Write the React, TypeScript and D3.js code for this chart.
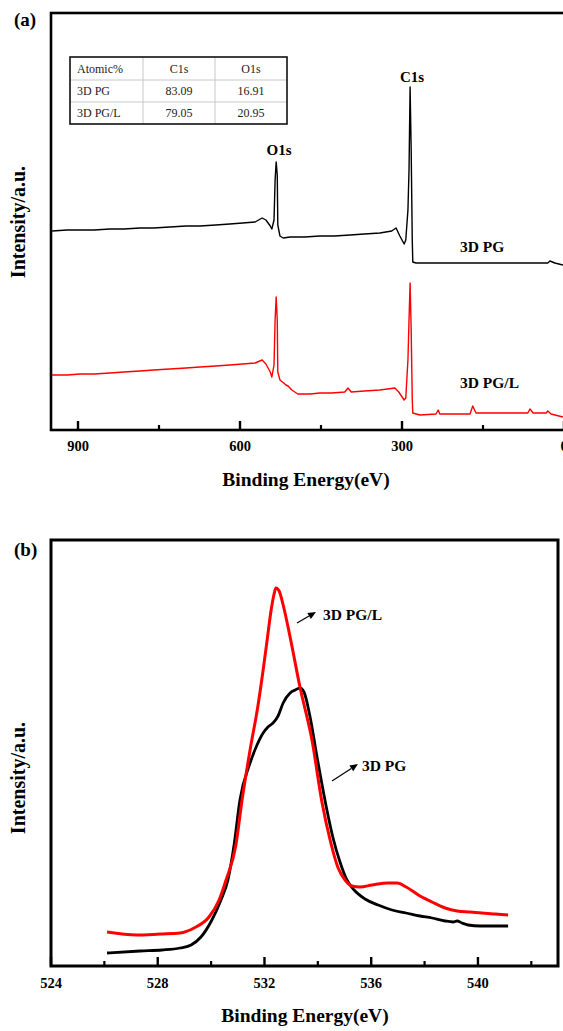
import React from "react";
import * as d3 from "d3";

// ---------- Panel (a): XPS survey spectra ----------
const surveyPG_eV = [948, 920, 896, 870, 841, 815, 785, 760, 730, 700, 674, 645, 619, 595, 572, 559, 552, 544, 541, 537, 535, 533, 531, 530, 526, 520, 507, 480, 452, 425, 396, 370, 341, 330, 319, 311, 304, 296, 293, 289, 287, 285, 283, 281, 280, 274, 211, 119, 30, 26, 17, 2];
const surveyPG_I = [199, 200, 200, 200, 201, 201, 202, 202, 203, 204, 204, 205, 206, 207, 208, 212, 210, 204, 201, 210, 250, 268, 255, 205, 194, 192, 193, 193, 194, 194, 195, 196, 197, 198, 199, 202, 194, 186, 190, 220, 260, 343, 280, 190, 168, 167, 167, 167, 167, 169, 167, 165];

const surveyPGL_eV = [948, 920, 896, 870, 841, 815, 785, 760, 730, 700, 674, 645, 619, 595, 572, 559, 552, 544, 541, 537, 535, 533, 531, 530, 526, 519, 515, 511, 504, 493, 470, 452, 430, 406, 400, 394, 370, 341, 313, 306, 296, 293, 289, 287, 285, 283, 281, 280, 267, 237, 233, 230, 174, 169, 163, 119, 67, 63, 57, 33, 30, 24, 2];
const surveyPGL_I = [55, 55, 56, 56, 57, 58, 59, 60, 61, 62, 63, 64, 65, 66, 67, 70, 66, 58, 53, 65, 110, 133, 110, 58, 50, 47, 45, 44, 40, 36, 36, 37, 37, 38, 42, 38, 39, 40, 42, 38, 30, 32, 70, 110, 147, 100, 30, 17, 15, 16, 20, 16, 16, 24, 17, 17, 17, 21, 17, 17, 19, 16, 13];

const surveyTicksMajor = [900, 600, 300, 0];
const surveyTicksMinor = [750, 450, 150];

const tableHeader = ["Atomic%", "C1s", "O1s"];
const tableRows = [
  ["3D PG", "83.09", "16.91"],
  ["3D PG/L", "79.05", "20.95"],
];

// ---------- Panel (b): O1s high-resolution spectra ----------
const o1sPGL_eV = [526.1, 527.22, 528.09, 528.84, 529.36, 529.92, 530.3, 530.56, 530.93, 531.16, 531.46, 531.76, 531.95, 532.1, 532.25, 532.36, 532.43, 532.55, 532.7, 532.96, 533.33, 533.78, 534.16, 534.46, 534.76, 535.02, 535.28, 535.58, 536.03, 536.63, 536.97, 537.31, 537.83, 538.28, 538.77, 539.22, 539.7, 540.15, 540.64, 541.13];
const o1sPGL_I = [34, 31, 32, 33, 38, 49, 66, 86, 121, 166, 216, 261, 296, 326, 356, 372, 378, 375, 361, 329, 279, 226, 163, 126, 98, 86, 80, 79, 81, 83, 83, 79, 70, 64, 58, 55, 54, 53, 52, 51];

const o1sPG_eV = [526.1, 527.34, 528.16, 528.84, 529.25, 529.62, 530.03, 530.37, 530.63, 530.86, 531.08, 531.46, 531.72, 531.95, 532.13, 532.32, 532.51, 532.7, 532.96, 533.15, 533.33, 533.48, 533.71, 533.97, 534.16, 534.34, 534.57, 534.83, 535.09, 535.36, 535.77, 536.26, 536.78, 537.31, 537.83, 538.28, 538.77, 539.07, 539.22, 539.4, 539.63, 540.08, 540.64, 541.13];
const o1sPG_I = [13, 15, 16, 18, 21, 29, 46, 66, 86, 121, 166, 203, 221, 233, 239, 243, 250, 263, 273, 276, 278, 274, 249, 209, 181, 156, 128, 104, 86, 76, 67, 61, 56, 53, 50, 48, 45, 44, 45, 43, 41, 40, 40, 40];

const o1sTicksMajor = [524, 528, 532, 536, 540];
const o1sTicksMinor = [526, 530, 534, 538, 542];

const FONT = "'Liberation Serif', 'Times New Roman', serif";

function zip(xs: number[], ys: number[]): [number, number][] {
  return xs.map((x, i) => [x, ys[i]]);
}

export default function App() {
  // Panel (a) frame
  const aL = 51, aR = 566, aT = 13, aB = 430;
  const xA = d3.scaleLinear().domain([950, 0]).range([51, 564]);
  const yA = d3.scaleLinear().domain([0, 417]).range([aB, aT]);
  const lineA = d3.line<[number, number]>().x((d) => xA(d[0])).y((d) => yA(d[1]));

  // Panel (b) frame
  const bL = 51, bR = 558, bT = 540, bB = 966;
  const xB = d3.scaleLinear().domain([524, 543]).range([bL, bR]);
  const yB = d3.scaleLinear().domain([0, 426]).range([bB, bT]);
  const lineB = d3
    .line<[number, number]>()
    .x((d) => xB(d[0]))
    .y((d) => yB(d[1]))
    .curve(d3.curveMonotoneX);

  // table geometry
  const tX = [70, 143, 215, 287];
  const tY = [57, 80, 102, 124];

  const arrow = (x1: number, y1: number, x2: number, y2: number, key: string) => {
    const ang = Math.atan2(y2 - y1, x2 - x1);
    const hl = 8, hw = 3.5;
    const bx = x2 - hl * Math.cos(ang), by = y2 - hl * Math.sin(ang);
    const px = -Math.sin(ang) * hw, py = Math.cos(ang) * hw;
    return (
      <g key={key}>
        <line x1={x1} y1={y1} x2={bx} y2={by} stroke="#000" strokeWidth={1.2} />
        <polygon points={`${x2},${y2} ${bx + px},${by + py} ${bx - px},${by - py}`} fill="#000" />
      </g>
    );
  };

  return (
    <svg
      width={563}
      height={1031}
      style={{ position: "absolute", left: 0, top: 0, background: "#fff" }}
      fontFamily={FONT}
    >
      <rect x={0} y={0} width={563} height={1031} fill="#fff" />

      {/* ================= Panel (a) ================= */}
      <text x={14} y={26} fontSize={19} fontWeight="bold">(a)</text>

      <path d={lineA(zip(surveyPG_eV, surveyPG_I)) || ""} fill="none" stroke="#000" strokeWidth={1.4} strokeLinejoin="round" />
      <path d={lineA(zip(surveyPGL_eV, surveyPGL_I)) || ""} fill="none" stroke="#ff0000" strokeWidth={1.4} strokeLinejoin="round" />

      <rect x={aL} y={aT} width={aR - aL} height={aB - aT} fill="none" stroke="#000" strokeWidth={2.6} />
      {surveyTicksMajor.map((t) => (
        <g key={"am" + t}>
          <line x1={xA(t)} x2={xA(t)} y1={aB} y2={aB - 9} stroke="#000" strokeWidth={2.4} />
          <text x={xA(t)} y={451} fontSize={14.5} fontWeight="bold" textAnchor="middle">{t}</text>
        </g>
      ))}
      {surveyTicksMinor.map((t) => (
        <line key={"an" + t} x1={xA(t)} x2={xA(t)} y1={aB} y2={aB - 5} stroke="#000" strokeWidth={2.2} />
      ))}

      <text x={306} y={486} fontSize={19.5} fontWeight="bold" textAnchor="middle">Binding Energy(eV)</text>
      <text transform="translate(25,222) rotate(-90)" fontSize={20} fontWeight="bold" textAnchor="middle">Intensity/a.u.</text>

      <text x={279} y={155} fontSize={15} fontWeight="bold" textAnchor="middle">O1s</text>
      <text x={412} y={82} fontSize={15} fontWeight="bold" textAnchor="middle">C1s</text>
      <text x={460} y={252} fontSize={15.5} fontWeight="bold">3D PG</text>
      <text x={460} y={388} fontSize={15.5} fontWeight="bold">3D PG/L</text>

      {/* table */}
      <g>
        {tY.slice(1, 3).map((y) => (
          <line key={"th" + y} x1={tX[0]} x2={tX[3]} y1={y} y2={y} stroke="#c8c8c8" strokeWidth={1} />
        ))}
        {tX.slice(1, 3).map((x) => (
          <line key={"tv" + x} x1={x} x2={x} y1={tY[0]} y2={tY[3]} stroke="#c8c8c8" strokeWidth={1} />
        ))}
        <rect x={tX[0]} y={tY[0]} width={tX[3] - tX[0]} height={tY[3] - tY[0]} fill="none" stroke="#111" strokeWidth={1.6} />
        {[tableHeader, ...tableRows].map((row, r) => {
          const cy = (tY[r] + tY[r + 1]) / 2 + 4;
          return (
            <g key={"tr" + r} fontSize={12} fill="#222">
              <text x={tX[0] + 7} y={cy}>{row[0]}</text>
              <text x={(tX[1] + tX[2]) / 2} y={cy} textAnchor="middle">{row[1]}</text>
              <text x={(tX[2] + tX[3]) / 2} y={cy} textAnchor="middle">{row[2]}</text>
            </g>
          );
        })}
      </g>

      {/* ================= Panel (b) ================= */}
      <text x={14} y={556} fontSize={19} fontWeight="bold">(b)</text>

      <path d={lineB(zip(o1sPG_eV, o1sPG_I)) || ""} fill="none" stroke="#000" strokeWidth={2.8} strokeLinejoin="round" />
      <path d={lineB(zip(o1sPGL_eV, o1sPGL_I)) || ""} fill="none" stroke="#ff0000" strokeWidth={3} strokeLinejoin="round" />

      <rect x={bL} y={bT} width={bR - bL} height={bB - bT} fill="none" stroke="#000" strokeWidth={3} />
      {o1sTicksMajor.map((t) => (
        <g key={"bm" + t}>
          <line x1={xB(t)} x2={xB(t)} y1={bB} y2={bB - 9} stroke="#000" strokeWidth={2.4} />
          <text x={xB(t)} y={988} fontSize={14.5} fontWeight="bold" textAnchor="middle">{t}</text>
        </g>
      ))}
      {o1sTicksMinor.map((t) => (
        <line key={"bn" + t} x1={xB(t)} x2={xB(t)} y1={bB} y2={bB - 5} stroke="#000" strokeWidth={2.2} />
      ))}

      <text x={305} y={1022} fontSize={19.5} fontWeight="bold" textAnchor="middle">Binding Energy(eV)</text>
      <text transform="translate(25,778) rotate(-90)" fontSize={20} fontWeight="bold" textAnchor="middle">Intensity/a.u.</text>

      {arrow(297, 623, 316, 612, "a1")}
      <text x={323} y={620} fontSize={15.5} fontWeight="bold">3D PG/L</text>
      {arrow(332, 781, 358, 764, "a2")}
      <text x={362} y={771} fontSize={15.5} fontWeight="bold">3D PG</text>
    </svg>
  );
}
